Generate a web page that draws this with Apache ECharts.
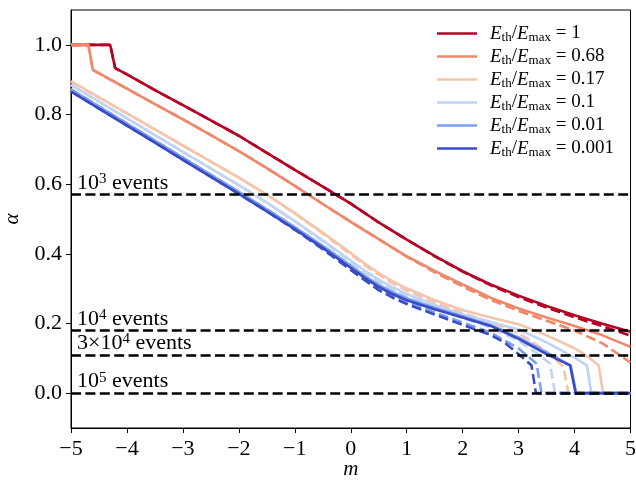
<!DOCTYPE html>
<html>
<head>
<meta charset="utf-8">
<script src="https://cdn.jsdelivr.net/npm/echarts@6/dist/echarts.min.js"></script>
<style>
html,body{margin:0;padding:0;background:#fff;}
#chart{width:636px;height:481px;}
</style>
</head>
<body>
<div id="chart"></div>
<script>
// ---- data ----
const xTicks = [-5, -4, -3, -2, -1, 0, 1, 2, 3, 4, 5];
const yTicks = [0.0, 0.2, 0.4, 0.6, 0.8, 1.0];
const ratioLabels = ['1', '0.68', '0.17', '0.1', '0.01', '0.001'];
const colors = ['#b40426', '#ef886b', '#f4c4ac', '#bfd3f6', '#7b9ff9', '#3b4cc0'];

const eventLevels = [0.572, 0.179, 0.107, 0.0];
const eventTexts = [['', '3'], ['', '4'], ['3\u00d7', '4'], ['', '5']];

// solid curves [m, alpha]
const red = [[-5,1.0],[-4.30,1.0],[-4.21,0.933],[-4,0.915],[-3.5,0.870],[-3,0.827],[-2.5,0.783],[-2,0.739],[-1.5,0.690],[-1,0.641],[-0.5,0.593],[0,0.544],[0.5,0.490],[1,0.441],[1.5,0.394],[2,0.350],[2.5,0.312],[3,0.280],[3.5,0.250],[4,0.224],[4.5,0.199],[5,0.176]];
const salmon = [[-5,1.0],[-4.69,1.0],[-4.61,0.928],[-4,0.874],[-3.5,0.830],[-3,0.786],[-2.5,0.741],[-2,0.695],[-1.5,0.646],[-1,0.595],[-0.5,0.543],[0,0.492],[0.5,0.442],[1,0.393],[1.5,0.351],[2,0.312],[2.5,0.274],[3,0.243],[3.5,0.217],[4,0.193],[4.5,0.166],[5,0.133]];
const peach = [[-5,0.895],[-4.5,0.849],[-4,0.803],[-3.5,0.757],[-3,0.711],[-2.5,0.665],[-2,0.619],[-1.5,0.570],[-1,0.517],[-0.5,0.461],[0,0.402],[0.25,0.372],[0.5,0.345],[0.75,0.321],[1,0.301],[1.5,0.267],[2,0.239],[2.5,0.217],[3,0.198],[3.32,0.178],[3.5,0.166],[4,0.129],[4.22,0.107],[4.43,0.080],[4.51,0.0],[5,0.0]];
const lightBlue = [[-5,0.885],[-4.5,0.837],[-4,0.789],[-3.5,0.741],[-3,0.693],[-2.5,0.645],[-2,0.597],[-1.5,0.547],[-1,0.494],[-0.5,0.439],[0,0.381],[0.25,0.352],[0.5,0.326],[0.75,0.304],[1,0.285],[1.5,0.253],[2,0.226],[2.5,0.204],[3,0.183],[3.5,0.146],[4,0.102],[4.22,0.080],[4.30,0.0],[5,0.0]];
const midBlue = [[-5,0.872],[-4.5,0.823],[-4,0.774],[-3.5,0.725],[-3,0.676],[-2.5,0.627],[-2,0.578],[-1.5,0.528],[-1,0.477],[-0.5,0.423],[0,0.366],[0.25,0.337],[0.5,0.311],[0.75,0.290],[1,0.272],[1.5,0.245],[2,0.221],[2.5,0.196],[3,0.160],[3.5,0.117],[3.93,0.080],[4.03,0.0],[5,0.0]];
const darkBlue = [[-5,0.866],[-4.5,0.817],[-4,0.768],[-3.5,0.719],[-3,0.670],[-2.5,0.621],[-2,0.572],[-1.5,0.522],[-1,0.471],[-0.5,0.417],[0,0.360],[0.25,0.331],[0.5,0.305],[0.75,0.284],[1,0.267],[1.5,0.241],[2,0.217],[2.5,0.193],[3,0.156],[3.5,0.112],[3.92,0.080],[4.02,0.0],[5,0.0]];

// dashed curves [m, alpha]
const redDash = [[-5,1.0],[-4.30,1.0],[-4.21,0.933],[-4,0.915],[-3.5,0.870],[-3,0.827],[-2.5,0.783],[-2,0.739],[-1.5,0.690],[-1,0.641],[-0.5,0.593],[0,0.544],[0.5,0.490],[1,0.441],[1.5,0.393],[2,0.349],[2.5,0.310],[3,0.276],[3.5,0.246],[4,0.218],[4.5,0.192],[5,0.165]];
const salmonDash = [[-5,1.0],[-4.69,1.0],[-4.61,0.928],[-4,0.874],[-3.5,0.830],[-3,0.786],[-2.5,0.741],[-2,0.695],[-1.5,0.646],[-1,0.595],[-0.5,0.543],[0,0.492],[0.5,0.442],[1,0.392],[1.5,0.347],[2,0.306],[2.5,0.268],[3,0.236],[3.5,0.208],[4,0.180],[4.5,0.143],[5,0.088]];
const peachDash = [[-5,0.895],[-4.5,0.849],[-4,0.803],[-3.5,0.757],[-3,0.711],[-2.5,0.665],[-2,0.619],[-1.5,0.570],[-1,0.516],[-0.5,0.458],[0,0.398],[0.25,0.367],[0.5,0.340],[0.75,0.315],[1,0.295],[1.5,0.260],[2,0.230],[2.5,0.204],[3,0.172],[3.5,0.120],[3.80,0.076],[3.89,0.0],[5,0.0]];
const lightBlueDash = [[-5,0.885],[-4.5,0.837],[-4,0.789],[-3.5,0.741],[-3,0.693],[-2.5,0.645],[-2,0.597],[-1.5,0.547],[-1,0.493],[-0.5,0.436],[0,0.377],[0.25,0.347],[0.5,0.320],[0.75,0.297],[1,0.278],[1.5,0.245],[2,0.215],[2.5,0.188],[3,0.150],[3.3,0.118],[3.56,0.085],[3.65,0.0],[5,0.0]];
const midBlueDash = [[-5,0.872],[-4.5,0.823],[-4,0.774],[-3.5,0.725],[-3,0.676],[-2.5,0.627],[-2,0.578],[-1.5,0.528],[-1,0.475],[-0.5,0.419],[0,0.360],[0.25,0.330],[0.5,0.302],[0.75,0.281],[1,0.263],[1.5,0.232],[2,0.203],[2.5,0.174],[3,0.128],[3.32,0.085],[3.41,0.0],[5,0.0]];
const darkBlueDash = [[-5,0.866],[-4.5,0.817],[-4,0.768],[-3.5,0.719],[-3,0.670],[-2.5,0.621],[-2,0.572],[-1.5,0.522],[-1,0.469],[-0.5,0.413],[0,0.354],[0.25,0.324],[0.5,0.296],[0.75,0.274],[1,0.256],[1.5,0.226],[2,0.196],[2.5,0.167],[2.75,0.145],[3,0.112],[3.23,0.080],[3.31,0.0],[5,0.0]];

const solids = [red, salmon, peach, lightBlue, midBlue, darkBlue];
const dashes = [redDash, salmonDash, peachDash, lightBlueDash, midBlueDash, darkBlueDash];

// ---- chart ----
const FONT = 'Liberation Serif';
const LW = 2.6;
const DASH = [10, 4.4];

const series = [];
series.push({
  type: 'line', name: 'events', data: [], silent: true, z: 1,
  markLine: {
    silent: true, symbol: ['none', 'none'], animation: false,
    lineStyle: {color: '#000', type: DASH, width: LW},
    label: {
      show: true, position: 'insideStartTop', distance: [6, 0],
      color: '#000', fontFamily: FONT,
      rich: {
        n: {fontSize: 22, lineHeight: 23, fontFamily: FONT, color: '#000'},
        sup: {fontSize: 15, lineHeight: 11, verticalAlign: 'top', fontFamily: FONT, color: '#000'}
      }
    },
    data: eventLevels.map((v, i) => ({
      yAxis: v,
      label: {formatter: '{n|' + eventTexts[i][0] + '10}{sup|' + eventTexts[i][1] + '}{n| events}'}
    }))
  }
});
solids.forEach((d, i) => {
  series.push({
    type: 'line', name: ratioLabels[i], data: d, showSymbol: false, symbol: 'none',
    color: colors[i], lineStyle: {color: colors[i], width: LW}, z: 2
  });
  series.push({
    type: 'line', name: ratioLabels[i] + ' dashed', data: dashes[i], showSymbol: false, symbol: 'none',
    color: colors[i], lineStyle: {color: colors[i], width: LW, type: DASH}, z: 2
  });
});

const chart = echarts.init(document.getElementById('chart'), null, {renderer: 'canvas'});
chart.setOption({
  animation: false,
  backgroundColor: '#fff',
  grid: {left: 71, right: 5.5, top: 10, bottom: 53, show: true, borderColor: '#000', borderWidth: 1,
         containLabel: false, outerBoundsMode: 'none'},
  legend: {
    data: ratioLabels, orient: 'vertical', left: 437, top: 24, padding: 0,
    itemWidth: 40, itemHeight: 2.6, icon: 'rect', itemGap: 2.5,
    textStyle: {
      fontFamily: FONT, fontSize: 19, color: '#000',
      rich: {
        g: {width: 8, fontSize: 19, lineHeight: 22},
        e: {fontStyle: 'italic', fontSize: 19, lineHeight: 22, fontFamily: FONT, color: '#000'},
        s: {fontSize: 13, lineHeight: 12, verticalAlign: 'bottom', fontFamily: FONT, color: '#000'},
        n: {fontSize: 19, lineHeight: 22, fontFamily: FONT, color: '#000'}
      }
    },
    formatter: name => '{g| }{e|E}{s|th}{n|/}{e|E}{s|max}{n| = ' + name + '}'
  },
  xAxis: {
    type: 'value', min: -5, max: 5, interval: 1,
    axisLine: {show: true, onZero: false, lineStyle: {color: '#000', width: 1}},
    axisTick: {show: true, length: 5, inside: false, lineStyle: {color: '#000', width: 1}},
    axisLabel: {color: '#000', fontSize: 22, fontFamily: FONT, margin: 10, showMinLabel: true, showMaxLabel: true,
      customValues: xTicks,
      formatter: v => v < 0 ? '\u2212' + (-v) : String(v)},
    splitLine: {show: false},
    name: 'm', nameLocation: 'middle', nameGap: 31, nameMoveOverlap: false,
    nameTextStyle: {fontStyle: 'italic', fontSize: 21, fontFamily: FONT, color: '#000'}
  },
  yAxis: {
    type: 'value', min: -0.1, max: 1.1,
    axisLine: {show: true, onZero: false, lineStyle: {color: '#000', width: 1}},
    axisTick: {show: true, length: 5, inside: false, customValues: yTicks, lineStyle: {color: '#000', width: 1}},
    axisLabel: {color: '#000', fontSize: 22, fontFamily: FONT, margin: 9, customValues: yTicks,
      formatter: v => v.toFixed(1)},
    splitLine: {show: false},
    name: '\u03b1', nameLocation: 'middle', nameGap: 48, nameRotate: 90, nameMoveOverlap: false,
    nameTextStyle: {fontStyle: 'italic', fontSize: 21, fontFamily: FONT, color: '#000'}
  },
  series: series
});
</script>
</body>
</html>
